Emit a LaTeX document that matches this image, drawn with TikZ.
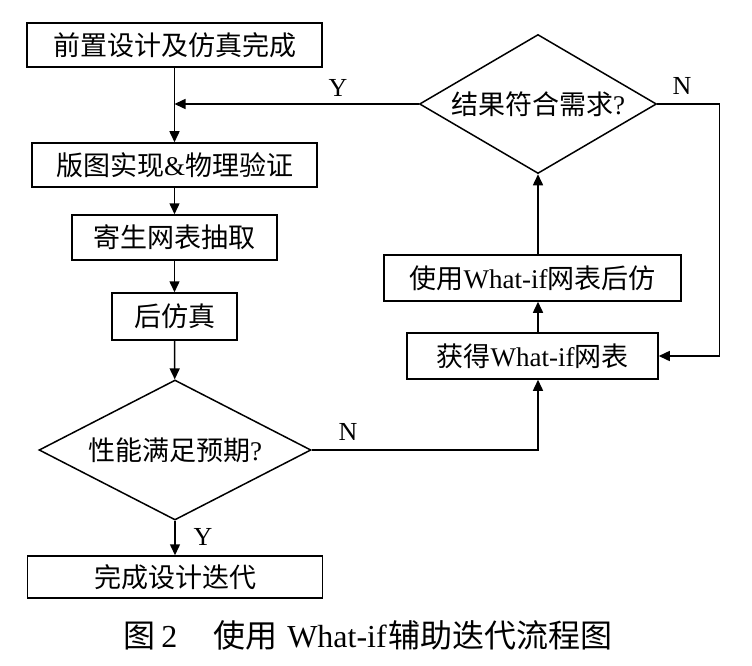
\documentclass[tikz,border=0pt]{standalone}
\usepackage{fontspec}
\setmainfont{Liberation Serif}
\newfontfamily\cjk{Noto Sans CJK SC}
\usetikzlibrary{calc,shapes.geometric,arrows.meta}

\begin{document}
\begin{tikzpicture}[x=1pt,y=-1pt,line width=1.5pt]
    \tikzstyle{box}=[draw, rectangle, inner sep=0pt, font=\fontsize{27}{30}\selectfont]
    \tikzstyle{cond}=[draw, diamond, inner sep=0pt, font=\fontsize{27}{30}\selectfont]
    \tikzstyle{arr}=[-{Triangle[length=11pt,width=10pt]}]
    \tikzstyle{lbl}=[font=\fontsize{26}{28}\selectfont, inner sep=0pt]
    \useasboundingbox (0,0) rectangle (752,666);
    % main column
    \node[box, minimum width=295pt, minimum height=44pt] (start) at (174.5,45) {\cjk 前置设计及仿真完成};
    \node[box, minimum width=285pt, minimum height=44pt] (layout) at (174.5,165) {{\cjk 版图实现}\&{\cjk 物理验证}};
    \node[box, minimum width=205pt, minimum height=45pt] (extract) at (174.5,237.5) {\cjk 寄生网表抽取};
    \node[box, minimum width=125pt, minimum height=47pt] (postsim) at (174.5,316.5) {\cjk 后仿真};
    \node[cond, shape aspect=1.94, minimum width=272pt, minimum height=140pt] (perf) at (175,450) {{\cjk 性能满足预期}?};
    \node[box, minimum width=295pt, minimum height=42pt] (done) at (175,577) {\cjk 完成设计迭代};
    % what-if loop
    \node[cond, shape aspect=1.7, minimum width=237pt, minimum height=139pt] (result) at (538,104) {{\cjk 结果符合需求}?};
    \node[box, minimum width=297pt, minimum height=46pt] (rerun) at (532.5,278) {{\cjk 使用}What-if{\cjk 网表后仿}};
    \node[box, minimum width=251pt, minimum height=46pt] (getnl) at (532.5,356) {{\cjk 获得}What-if{\cjk 网表}};
    \draw[arr] (start) -- (layout);
    \draw[arr] (result.west) -- (result.west -| start.south);
    \draw[arr] (layout) -- (extract);
    \draw[arr] (extract) -- (postsim);
    \draw[arr] (postsim) -- (perf);
    \draw[arr] (perf) -- (done);
    \draw[arr] (perf.east) -| (getnl.south -| result.south);
    \draw[arr] (getnl.north -| result.south) -- (rerun.south -| result.south);
    \draw[arr] (rerun.north -| result.south) -- (result.south);
    \draw[arr] (result.east) -- ++(62,0) |- (getnl.east);
    % labels
    \node[lbl] (y1) at (338,88) {Y};
    \node[lbl] (n1) at (682,86) {N};
    \node[lbl] (n2) at (348,432) {N};
    \node[lbl] (y2) at (203,537) {Y};
    \node[inner sep=0pt, font=\fontsize{32}{34}\selectfont] (cap) at (368,635)
        {{\cjk 图}\hspace{6pt}2\hspace{36pt}{\cjk 使用}\hspace{10pt}What-if\hspace{2pt}{\cjk 辅助迭代流程图}};
\end{tikzpicture}
\end{document}
